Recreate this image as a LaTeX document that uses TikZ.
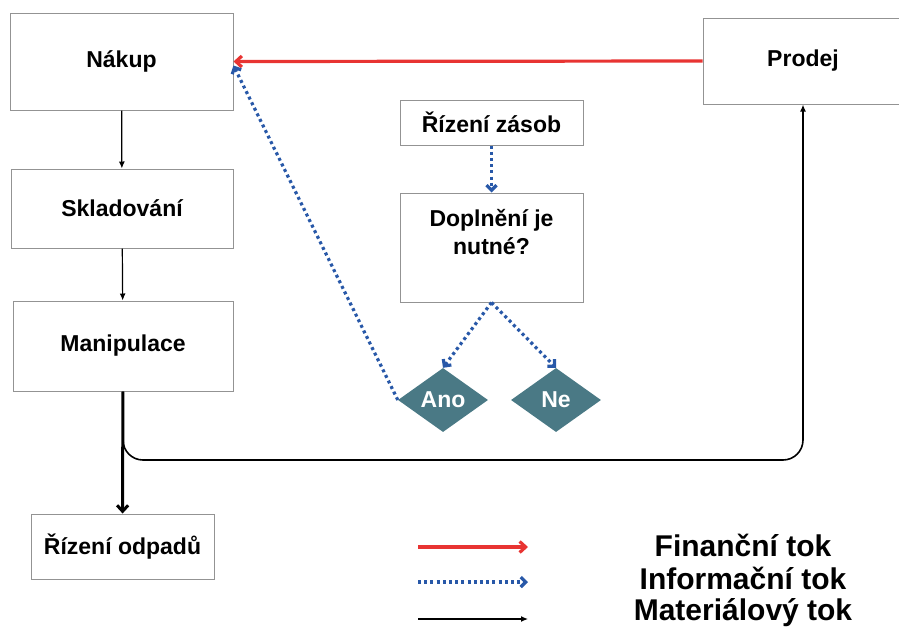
\documentclass[tikz,border=0pt]{standalone}
\usepackage{fontspec}
\setmainfont{Liberation Sans}
\usetikzlibrary{shapes.geometric,arrows.meta,positioning}

\definecolor{finred}{RGB}{232,52,50}
\definecolor{infoblue}{RGB}{40,88,168}
\definecolor{choiceteal}{RGB}{74,121,133}

\begin{document}
\begin{tikzpicture}[x=1pt, y=-1pt,
    box/.style={draw=gray!85, line width=1pt, fill=white, inner sep=0pt,
        font=\fontsize{23}{28}\selectfont\bfseries},
    choice/.style={diamond, fill=choiceteal, text=white, inner sep=0pt,
        minimum width=90pt, minimum height=64pt,
        font=\fontsize{23}{28}\selectfont\bfseries},
    legendtext/.style={font=\fontsize{30}{34}\selectfont\bfseries, inner sep=0pt,
        text height=21pt, text depth=6pt},
    matflow/.style={line width=1.2pt, -{Latex[length=7pt,width=6pt]}},
    finflow/.style={finred, line width=3.2pt, -{Straight Barb[length=6pt,width=11pt]}},
    infoflow/.style={infoblue, line width=3.2pt, dash pattern=on 3pt off 3.2pt,
        -{Straight Barb[length=5pt,width=10pt]}}]

    \useasboundingbox (0,0) rectangle (899,627);

    % Left column
    \node[box, minimum width=223pt, minimum height=97pt] (nakup) at (121.5,61.5) {Nákup};
    \node[box, minimum width=222pt, minimum height=79pt] (sklad) at (122,208.5) {Skladování};
    \node[box, minimum width=220pt, minimum height=90pt] (manip) at (123,346) {Manipulace};
    \node[box, minimum width=183pt, minimum height=65pt] (odpady) at (122.5,546.5) {Řízení odpadů};

    % Right box
    \node[box, minimum width=200pt, minimum height=86pt] (prodej) at (803,61) {Prodej};

    % Middle column
    \node[box, minimum width=183pt, minimum height=45pt] (zasob) at (491.5,122.5) {Řízení zásob};
    \node[box, minimum width=183pt, minimum height=109pt] (dopl) at (491.5,247.5) {};
    \node[font=\fontsize{23}{28}\selectfont\bfseries, align=center] (dopltext)
        at ([yshift=15pt]dopl.center) {Doplnění je\\nutné?};
    \node[choice] (ano) at (443,400) {Ano};
    \node[choice] (ne) at (556,400) {Ne};

    % Material flow
    \draw[matflow] (nakup) -- (sklad);
    \draw[matflow] (sklad) -- (manip);
    \draw[matflow, line width=3pt, -{Straight Barb[length=6pt,width=11pt]}] (manip) -- (odpady);
    \coordinate (bend) at (803,460);
    \draw[matflow, line width=1.6pt, rounded corners=20pt] (manip.south) |- (bend) -- (prodej.south);

    % Financial flow
    \draw[finflow] (prodej.west) -- (nakup.east);

    % Information flow
    \draw[infoflow] (zasob) -- (dopl);
    \draw[infoflow] (dopl.south) -- (ano.north);
    \draw[infoflow] (dopl.south) -- (ne.north);
    \draw[infoflow] (ano.west) -- ([yshift=-4pt]nakup.east);

    % Legend
    \coordinate (fin-a) at (418,547);  \coordinate (fin-b) at (528,547);
    \coordinate (info-a) at (418,582); \coordinate (info-b) at (528,582);
    \coordinate (mat-a) at (418,619);  \coordinate (mat-b) at (528,619);
    \draw[finflow] (fin-a) -- (fin-b);
    \draw[infoflow] (info-a) -- (info-b);
    \draw[matflow] (mat-a) -- (mat-b);
    \node[legendtext] (fintext) at (743,549) {Finanční tok};
    \node[legendtext] (infotext) at (743,582) {Informační tok};
    \node[legendtext] (mattext) at (743,613) {Materiálový tok};

\end{tikzpicture}
\end{document}
